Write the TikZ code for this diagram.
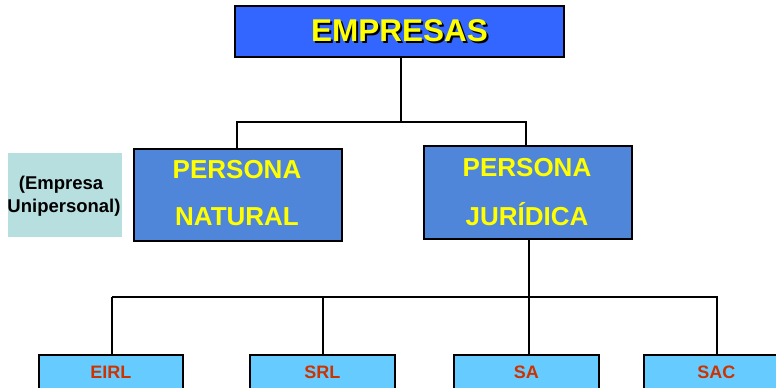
\documentclass[tikz,border=0pt]{standalone}
\usepackage{fontspec}
\setmainfont{Liberation Sans}
\definecolor{topblue}{HTML}{3366FF}
\definecolor{midblue}{HTML}{4F86D9}
\definecolor{lightblue}{HTML}{66CCFF}
\definecolor{labelbg}{HTML}{B8DFE0}
\definecolor{txtyellow}{HTML}{FFFF00}
\definecolor{txtred}{HTML}{CC3300}
\newcommand{\shadowtext}[1]{\rlap{\hspace{2pt}\raisebox{-2pt}{\textcolor{black}{#1}}}#1}
\begin{document}
\begin{tikzpicture}[x=1pt,y=-1pt,
  box/.style={draw=black,line width=1.8pt,inner sep=0pt,anchor=north west},
  conn/.style={draw=black,line width=1.5pt},
  big/.style={text=txtyellow,font=\bfseries\fontsize{26}{26}\selectfont},
  small/.style={font=\bfseries\fontsize{18}{18}\selectfont}]
\useasboundingbox (0,0) rectangle (776,388);
% top
\node[box,fill=topblue,minimum width=329pt,minimum height=51pt] (emp) at (234,5) {};
\node[text=txtyellow,font=\bfseries\fontsize{31.5}{31.5}\selectfont] (empt) at (emp.center) {\shadowtext{EMPRESAS}};
% second level
\node[box,fill=midblue,minimum width=208pt,minimum height=92pt] (pn) at (133,148) {};
\node[box,fill=midblue,minimum width=208pt,minimum height=93pt] (pj) at (423,145) {};
\node[big] (pn1) at (237,170) {PERSONA};
\node[big] (pn2) at (237,217) {NATURAL};
\node[big] (pj1) at (527,168) {PERSONA};
\node[big] (pj2) at (527,214) {JURÍDICA};
% label
\node[anchor=north west,fill=labelbg,minimum width=114pt,minimum height=84pt,inner sep=0pt] (lab) at (8,153) {};
\node[small,text=black,font=\bfseries\fontsize{18.5}{18.5}\selectfont] (lab1) at (61,185) {(Empresa};
\node[small,text=black,font=\bfseries\fontsize{18.5}{18.5}\selectfont] (lab2) at (64,208) {Unipersonal)};
% bottom
\node[box,fill=lightblue,minimum width=144pt,minimum height=40pt] (eirl) at (38,354) {};
\node[box,fill=lightblue,minimum width=145pt,minimum height=40pt] (srl) at (249,354) {};
\node[box,fill=lightblue,minimum width=145pt,minimum height=40pt] (sa) at (453,354) {};
\node[box,fill=lightblue,minimum width=145pt,minimum height=40pt] (sac) at (643,354) {};
\foreach \n/\t in {eirl/EIRL,srl/SRL,sa/SA,sac/SAC}
  \node[small,text=txtred] (\n t) at (\n.center |- 0,372) {\t};
% connectors
\coordinate (h1) at (401,122);
\draw[conn] (emp.south -| h1) -- (h1);
\draw[conn] (pn.north -| 237,0) -- (237,122) -- (526,122) -- (pj.north -| 526,0);
\coordinate (h2) at (529,297);
\draw[conn] (pj.south -| h2) -- (sa.north -| h2);
\draw[conn] (112,297) -- (718,297);
\draw[conn] (112,297) -- (eirl.north -| 112,0);
\draw[conn] (323,297) -- (srl.north -| 323,0);
\draw[conn] (717,297) -- (sac.north -| 717,0);
\end{tikzpicture}
\end{document}
